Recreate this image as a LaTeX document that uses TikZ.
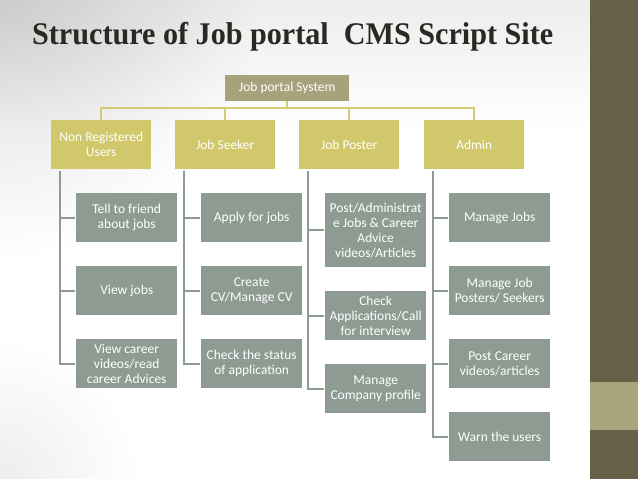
\documentclass[tikz,border=0pt]{standalone}
\usepackage{fontspec}
\usepackage{graphicx}
\usetikzlibrary{fadings}
\setmainfont{Carlito}
\newfontfamily\titlefont{Liberation Serif}
\definecolor{rootc}{HTML}{A6A27C}
\definecolor{lonec}{HTML}{D0C86B}
\definecolor{childc}{HTML}{8D9B92}
\definecolor{tconn}{HTML}{D3CB77}
\definecolor{gconnc}{HTML}{8D9B92}
\definecolor{sidebar}{HTML}{675F48}
\definecolor{band}{HTML}{A8A47D}
\definecolor{titlec}{HTML}{2B2822}
\tikzfading[name=myradial, inner color=transparent!0, outer color=transparent!100]
\tikzset{
  basebox/.style={anchor=north west, inner sep=0pt, align=center, text=white,
    font=\fontsize{13.5}{15}\selectfont},
  rootbox/.style={basebox, fill=rootc, minimum width=124pt, minimum height=26pt},
  lonebox/.style={basebox, fill=lonec, minimum width=100pt, minimum height=49pt},
  childbox/.style={basebox, fill=childc, minimum width=101pt, minimum height=49pt},
  tallbox/.style={childbox, minimum height=74pt},
  topconn/.style={draw=tconn, line width=2pt},
  subconn/.style={draw=gconnc, line width=2pt},
}
\begin{document}
\begin{tikzpicture}[x=1pt, y=-1pt]
\useasboundingbox (0,0) rectangle (638,479);
\fill[white] (0,0) rectangle (638,479);
\begin{scope}
\clip (0,0) rectangle (590,479);
\fill[black, fill opacity=0.07, path fading=south] (0,0) rectangle (590,130);
\fill[black, fill opacity=0.14, path fading=myradial] (0,0) circle (260pt);
\fill[black, fill opacity=0.07, path fading=myradial] (0,479) circle (140pt);
\end{scope}
\fill[sidebar] (590,0) rectangle (638,479);
\fill[band] (590,382) rectangle (638,430);
\node[anchor=base west, text=titlec, inner sep=0pt] (title) at (32,45)
  {\resizebox{521pt}{\height}{\titlefont\bfseries\fontsize{31.5}{32}\selectfont Structure of Job portal\ \ CMS Script Site}};
% root
\node[rootbox] (root) at (225,75) {Job portal System};
% level one
\node[lonebox] (nr) at (51,120) {Non Registered\\Users};
\node[lonebox] (js) at (175,120) {Job Seeker};
\node[lonebox] (jp) at (299,120) {Job Poster};
\node[lonebox] (ad) at (424,120) {Admin};
% children
\node[childbox] (nr1) at (76,193) {Tell to friend\\about jobs};
\node[childbox] (nr2) at (76,266) {View jobs};
\node[childbox] (nr3) at (76,339) {View career\\videos/read\\career Advices};
\node[childbox] (js1) at (201,193) {Apply for jobs};
\node[childbox] (js2) at (201,266) {Create\\CV/Manage CV};
\node[childbox] (js3) at (201,339) {Check the status\\of application};
\node[tallbox] (jp1) at (325,193) {Post/Administrat\\e Jobs \& Career\\Advice\\videos/Articles};
\node[childbox] (jp2) at (325,291) {Check\\Applications/Call\\for interview};
\node[childbox] (jp3) at (325,364) {Manage\\Company profile};
\node[childbox] (ad1) at (449,193) {Manage Jobs};
\node[childbox] (ad2) at (449,266) {Manage Job\\Posters/ Seekers};
\node[childbox] (ad3) at (449,339) {Post Career\\videos/articles};
\node[childbox] (ad4) at (449,412) {Warn the users};
% top connectors
\coordinate (hub) at ([yshift=-7pt]root.south);
\draw[topconn] (root.south) -- (hub);
\draw[topconn] (hub) -| (nr.north);
\draw[topconn] (hub) -| (js.north);
\draw[topconn] (hub) -| (jp.north);
\draw[topconn] (hub) -| (ad.north);
% sub connectors
\foreach \p/\last/\list in {nr/nr3/{nr1,nr2,nr3}, js/js3/{js1,js2,js3}, jp/jp3/{jp1,jp2,jp3}, ad/ad4/{ad1,ad2,ad3,ad4}}{
  \coordinate (\p top) at ([xshift=9pt,yshift=-2pt]\p.south west);
  \draw[subconn] (\p top) |- ([xshift=-1pt]\last.west);
  \foreach \c in \list {
    \draw[subconn] (\p top |- \c.west) -- ([xshift=-1pt]\c.west);
  }
}
\end{tikzpicture}
\end{document}
